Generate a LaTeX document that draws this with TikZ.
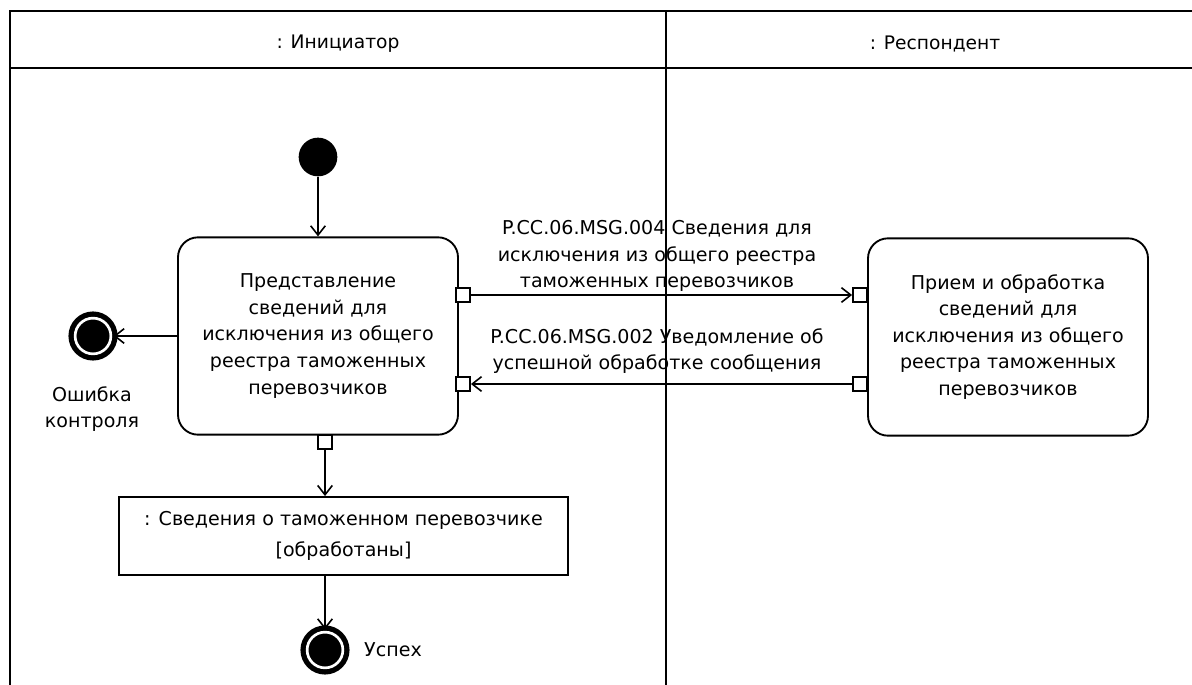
\documentclass[tikz,border=0pt]{standalone}
\usepackage{fontspec}
\setmainfont{DejaVu Sans}
\usetikzlibrary{arrows.meta}
\usetikzlibrary{positioning}
\tikzset{flow/.style = {-{Straight Barb[length=7pt,width=11pt,line width=1.2pt]}}}
\tikzset{action/.style = {draw, rounded corners=15pt, minimum width=210pt, minimum height=148pt,
                          align=center, font=\fontsize{14.3}{19.9}\selectfont}}
\tikzset{portbox/.style = {draw, fill=white, minimum size=10.5pt, inner sep=0pt}}
\tikzset{objbox/.style = {draw, minimum width=337pt, minimum height=58.5pt, align=center,
                          font=\fontsize{14.3}{23.5}\selectfont}}
\tikzset{startdot/.style = {circle, fill=black, minimum size=29pt, inner sep=0pt}}
\tikzset{enddot/.style = {circle, fill=black, draw=black, double=white, double distance=2pt,
                          line width=4pt, minimum size=26.8pt, inner sep=0pt}}
\tikzset{txt/.style = {align=center, font=\fontsize{14.3}{19.9}\selectfont}}

\begin{document}
\begin{tikzpicture}[x=0.75pt, y=-0.75pt, line width=1.4pt]
      \useasboundingbox (0, 0) rectangle (1192, 685);
      % swimlanes
      \draw (10, 685) -- (10, 11) -- (1192, 11);
      \draw (10, 68) -- (1192, 68);
      \draw (666, 11) -- (666, 685);
      \node [txt, font=\fontsize{14}{16}\selectfont] (initiator) at (338, 44) {: Инициатор};
      \node [txt, font=\fontsize{14}{16}\selectfont] (respondent) at (935, 44) {: Респондент};

      \node [startdot] (start) at (318, 157) {};
      \node [action] (send) at (318, 336) {Представление\\сведений для\\исключения из общего\\реестра таможенных\\перевозчиков};
      \node [action] (recv) at (1008, 337) {Прием и обработка\\сведений для\\исключения из общего\\реестра таможенных\\перевозчиков};

      \node [portbox] (sendout) at (463, 295) {};
      \node [portbox] (sendin) at (463, 384) {};
      \node [portbox] (sendres) at (325, 442) {};
      \node [portbox] (recvin) at (860, 295) {};
      \node [portbox] (recvout) at (860, 384) {};

      \node [objbox] (carrier) at (343.5, 536) {: Сведения о таможенном перевозчике\\{[}обработаны{]}};

      \node [enddot] (fail) at (93, 336) {};
      \node [txt] (failtext) at (92, 409) {Ошибка\\контроля};
      \node [enddot] (done) at (325, 650) {};
      \node [txt, right=10pt of done] (donetext) {Успех};

      \node [txt] (msgA) at (657, 256) {P.CC.06.MSG.004 Сведения для\\исключения из общего реестра\\таможенных перевозчиков};
      \node [txt] (msgB) at (657, 351) {P.CC.06.MSG.002 Уведомление об\\успешной обработке сообщения};

      \draw [flow] (start) -- (send);
      \draw [flow] (send.west) -- (fail);
      \draw [flow] (sendout) -- (recvin);
      \draw [flow] (recvout) -- (sendin);
      \draw [flow] (sendres.south) -- (sendres.south |- carrier.north);
      \draw [flow] (done |- carrier.south) -- (done);
    \end{tikzpicture}
\end{document}
